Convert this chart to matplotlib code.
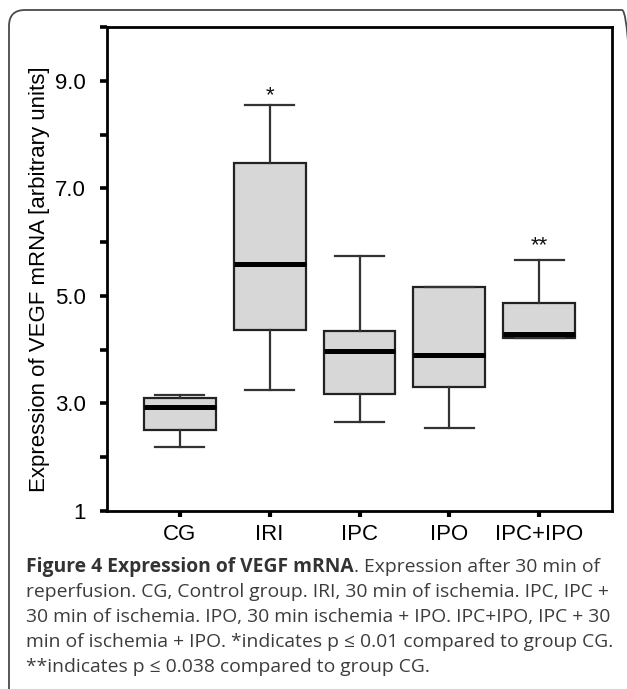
import matplotlib
matplotlib.use("Agg")
import matplotlib.pyplot as plt
from matplotlib.patches import FancyBboxPatch
from matplotlib.transforms import IdentityTransform

# box plot values
groups = ["CG", "IRI", "IPC", "IPO", "IPC+IPO"]
whisker_low = [2.19, 3.25, 2.66, 2.55, 4.22]
q1 = [2.51, 4.37, 3.18, 3.31, 4.22]
medians = [2.94, 5.60, 3.98, 3.91, 4.30]
q3 = [3.11, 7.47, 4.34, 5.16, 4.86]
whisker_high = [3.16, 8.55, 5.75, 5.16, 5.66]

# significance marks
marks = ["", "*", "", "", "**"]
mark_y = [0, 8.72, 0, 0, 5.93]

ytick_values = [1, 2, 3, 4, 5, 6, 7, 8, 9, 10]
ytick_labels = ["1", "", "3.0", "", "5.0", "", "7.0", "", "9.0", ""]

caption_bold = "Figure 4 Expression of VEGF mRNA"
caption_lines = [
    ". Expression after 30 min of",
    "reperfusion. CG, Control group. IRI, 30 min of ischemia. IPC, IPC +",
    "30 min of ischemia. IPO, 30 min ischemia + IPO. IPC+IPO, IPC + 30",
    "min of ischemia + IPO. *indicates p \u2264 0.01 compared to group CG.",
    "**indicates p \u2264 0.038 compared to group CG.",
]

W, H = 627, 689
fig = plt.figure(figsize=(W / 100, H / 100), dpi=100)
fig.patch.set_facecolor("white")

# rounded frame around the whole figure (open to the right / bottom)
frame = FancyBboxPatch((9, -30), 629, H - 10 + 30,
                       boxstyle="round,pad=0,rounding_size=16",
                       transform=IdentityTransform(), facecolor="none",
                       edgecolor="#4a4a4a", linewidth=1.3)
fig.add_artist(frame)

ax = fig.add_axes([107 / W, 1 - 511 / H, (612 - 107) / W, (511 - 27) / H])

positions = list(range(1, len(groups) + 1))
stats = []
for i in range(len(groups)):
    stats.append({
        "label": groups[i],
        "med": medians[i],
        "q1": q1[i],
        "q3": q3[i],
        "whislo": whisker_low[i],
        "whishi": whisker_high[i],
        "fliers": [],
    })

ax.bxp(stats, positions=positions, widths=0.8, capwidths=0.55,
       patch_artist=True, showfliers=False,
       boxprops=dict(facecolor="#d7d7d7", edgecolor="#222222", linewidth=1.6),
       medianprops=dict(color="black", linewidth=3.6, solid_capstyle="butt"),
       whiskerprops=dict(color="#333333", linewidth=1.6),
       capprops=dict(color="#333333", linewidth=1.6))

for p, m, y in zip(positions, marks, mark_y):
    if m:
        ax.text(p, y, m, ha="center", va="center", fontsize=16,
                family="Liberation Sans", color="#111111")

ax.set_xlim(0.19, 5.81)
ax.set_ylim(1, 10)
ax.set_yticks(ytick_values)
ax.set_yticklabels(ytick_labels)
ax.set_xticks(positions)
ax.set_xticklabels(groups)

for s in ax.spines.values():
    s.set_linewidth(2.0)
ax.tick_params(axis="y", direction="out", length=5, width=2.6, pad=10,
               labelsize=16)
ax.tick_params(axis="x", direction="out", length=4, width=3, pad=5,
               labelsize=16)
for lab in ax.get_xticklabels() + ax.get_yticklabels():
    lab.set_family("Liberation Sans")

fig.text(40 / W, 1 - 279 / H, "Expression of VEGF mRNA [arbitrary units]",
         rotation=90, ha="center", va="center", fontsize=16,
         family="Liberation Sans")

# caption: size chosen so that the fourth line spans the same width as the original
cap_x = 26 / W
cap_font = "Open Sans"
line_y = [567, 592, 617, 642, 667]
renderer = fig.canvas.get_renderer()
probe = fig.text(0, 0, caption_lines[3], fontsize=10, family=cap_font)
w10 = probe.get_window_extent(renderer).width
probe.remove()
cap_size = 10 * 588 / w10

tb = fig.text(cap_x, 1 - line_y[0] / H, caption_bold, ha="left", va="center",
              fontsize=cap_size, family=cap_font, weight="bold", color="#333333")
bb = tb.get_window_extent(renderer)
fig.text(bb.x1 / W, 1 - line_y[0] / H, caption_lines[0], ha="left",
         va="center", fontsize=cap_size, family=cap_font, color="#3c3c3c")
for txt, y in zip(caption_lines[1:], line_y[1:]):
    fig.text(cap_x, 1 - y / H, txt, ha="left", va="center",
             fontsize=cap_size, family=cap_font, color="#3c3c3c")

fig.savefig("out.png", dpi=100)
